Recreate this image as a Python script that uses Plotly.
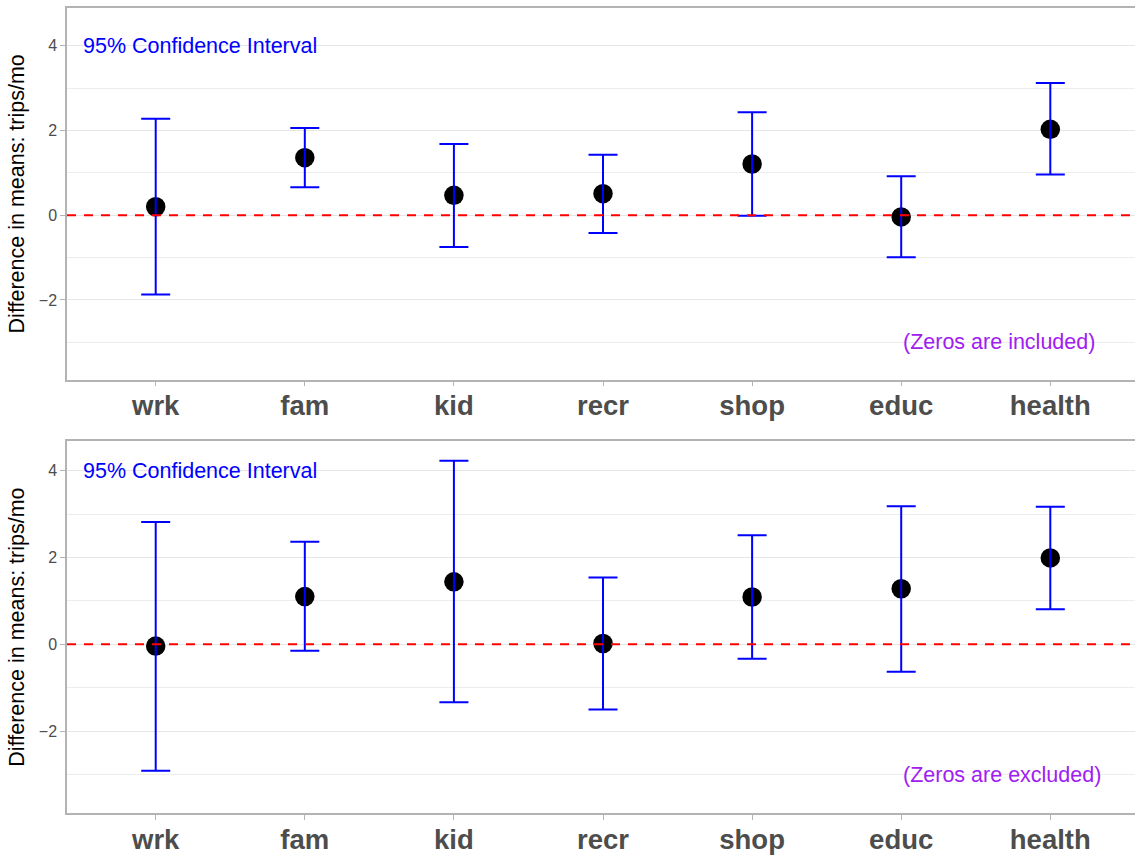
import plotly.graph_objects as go

# Trip purposes on the x axis
categories = ["wrk", "fam", "kid", "recr", "shop", "educ", "health"]

# Difference in means (trips/mo) with 95% CI bounds, zeros included
incl_mean = [0.20, 1.36, 0.47, 0.51, 1.21, -0.04, 2.03]
incl_upper = [2.28, 2.06, 1.68, 1.43, 2.43, 0.92, 3.12]
incl_lower = [-1.87, 0.66, -0.75, -0.42, -0.01, -0.99, 0.96]

# Same comparison, zeros excluded
excl_mean = [-0.04, 1.10, 1.44, 0.02, 1.09, 1.28, 1.99]
excl_upper = [2.82, 2.36, 4.23, 1.54, 2.51, 3.18, 3.17]
excl_lower = [-2.91, -0.15, -1.33, -1.50, -0.33, -0.63, 0.81]

y_ticks = [-2, 0, 2, 4]
panel_notes = ["(Zeros are included)", "(Zeros are excluded)"]

FONT = "Liberation Sans, Arial, Helvetica, sans-serif"
GREY_TXT = "#4d4d4d"
BORDER = "#b3b3b3"

fig = go.Figure()

panels = [
    (incl_mean, incl_upper, incl_lower, "x", "y"),
    (excl_mean, excl_upper, excl_lower, "x2", "y2"),
]

for mean, upper, lower, xa, ya in panels:
    # points first
    fig.add_trace(go.Scatter(
        x=categories, y=mean, mode="markers",
        marker=dict(color="black", size=19.5),
        xaxis=xa, yaxis=ya, showlegend=False, hoverinfo="skip",
    ))
    # error bars drawn on top of the points
    fig.add_trace(go.Scatter(
        x=categories, y=mean, mode="markers",
        marker=dict(color="rgba(0,0,0,0)", size=1),
        error_y=dict(
            type="data", symmetric=False,
            array=[u - m for u, m in zip(upper, mean)],
            arrayminus=[m - l for m, l in zip(mean, lower)],
            color="blue", thickness=2, width=14.5,
        ),
        xaxis=xa, yaxis=ya, showlegend=False, hoverinfo="skip",
    ))

# Domains in paper coordinates
top_dom = [0.5401, 1.0]
bot_dom = [0.0037, 0.464]

x_range = [-0.595, 6.568]


def xaxis_style(anchor):
    return dict(
        type="category", categoryorder="array", categoryarray=categories,
        range=x_range, domain=[0, 1], anchor=anchor,
        showgrid=False, zeroline=False,
        showline=True, mirror=True, linecolor=BORDER, linewidth=1.5,
        ticks="outside", ticklen=5, tickcolor=BORDER, tickwidth=1,
        ticklabelstandoff=-4,
        tickfont=dict(family=FONT, size=27.5, color=GREY_TXT, weight="bold"),
    )


def yaxis_style(anchor, dom, rng):
    return dict(
        range=rng, domain=dom, anchor=anchor,
        tickmode="array", tickvals=y_ticks,
        showgrid=True, gridcolor="#e6e6e6", gridwidth=1.3,
        minor=dict(showgrid=True, dtick=1, tick0=1, gridcolor="#ededed", gridwidth=1),
        zeroline=False,
        showline=True, mirror=False, linecolor=BORDER, linewidth=1.5,
        ticks="outside", ticklen=5, tickcolor=BORDER, tickwidth=1,
        tickfont=dict(family=FONT, size=16, color=GREY_TXT),
        title=dict(text="Difference in means: trips/mo",
                   font=dict(family=FONT, size=21.5, color="black"),
                   standoff=8),
    )


fig.update_layout(
    width=1135, height=855,
    margin=dict(l=67, r=0, t=8, b=36),
    paper_bgcolor="white", plot_bgcolor="white",
    xaxis=xaxis_style("y"),
    yaxis=yaxis_style("x", top_dom, [-3.882, 4.894]),
    xaxis2=xaxis_style("y2"),
    yaxis2=yaxis_style("x2", bot_dom, [-3.883, 4.68]),
)

annotations = []
shapes = []
for i, (xa, ya) in enumerate([("x", "y"), ("x2", "y2")]):
    annotations.append(dict(
        x=-0.5, y=4, xref=xa, yref=ya, text="95% Confidence Interval",
        showarrow=False, xanchor="left", yanchor="middle",
        font=dict(family=FONT, size=21.5, color="blue"),
    ))
    annotations.append(dict(
        x="educ", y=-3, xref=xa, yref=ya, text=panel_notes[i],
        showarrow=False, xanchor="left", yanchor="middle",
        font=dict(family=FONT, size=21.5, color="#A020F0"),
    ))
    # reference line at zero difference
    shapes.append(dict(
        type="line", xref=f"{xa} domain", yref=ya, x0=0, x1=1, y0=0, y1=0,
        line=dict(color="red", width=2, dash="9px,8px"), layer="above",
    ))

fig.update_layout(annotations=annotations, shapes=shapes)

fig.write_html("out.html")
